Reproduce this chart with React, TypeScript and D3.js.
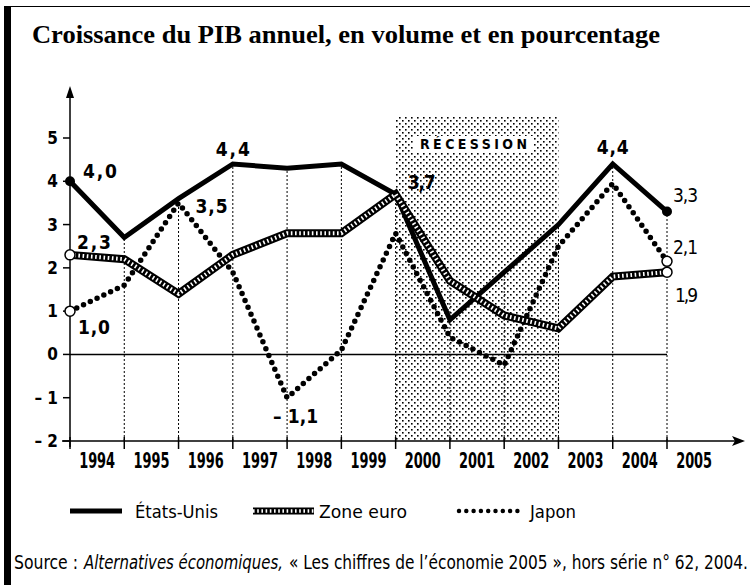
import React from 'react';
import * as d3 from 'd3';

const years = ['1994', '1995', '1996', '1997', '1998', '1999', '2000', '2001', '2002', '2003', '2004', '2005'];
const etatsUnis = [4.0, 2.7, 3.6, 4.4, 4.3, 4.4, 3.7, 0.8, 1.9, 3.0, 4.4, 3.3];
const zoneEuro = [2.3, 2.2, 1.4, 2.3, 2.8, 2.8, 3.7, 1.7, 0.9, 0.6, 1.8, 1.9];
const japon = [1.0, 1.6, 3.5, 1.9, -1.0, 0.1, 2.8, 0.4, -0.25, 2.5, 3.95, 2.15];
const yTicks = [-2, -1, 0, 1, 2, 3, 4, 5];
const recession = ['2000', '2003'];

const sans = "'DejaVu Sans Condensed', 'DejaVu Sans', sans-serif";
const serif = "'Liberation Serif', 'DejaVu Serif', serif";

export default function App() {
  const width = 750;
  const height = 585;

  const x = d3.scalePoint<string>().domain(years).range([70, 667]);
  const y = d3.scaleLinear().domain([-2, 5]).range([441, 138]);
  const step = x.step();

  const line = d3.line<number>()
    .x((d, i) => x(years[i])!)
    .y(d => y(d));

  const maxAt = years.map((yr, i) => Math.max(etatsUnis[i], zoneEuro[i], japon[i]));

  const first = years[0];
  const last = years[years.length - 1];

  // value labels: [text, series, year index, dx, dy, anchor, bold, width]
  const valueLabels: [string, number[], number, number, number, string, boolean, number][] = [
    ['4,0', etatsUnis, 0, 13, -3, 'start', true, 34],
    ['2,3', zoneEuro, 0, 7, -6, 'start', true, 34],
    ['1,0', japon, 0, 8, 23, 'start', true, 32],
    ['4,4', etatsUnis, 3, 0, -8, 'middle', true, 34],
    ['3,5', japon, 2, 17, 10, 'start', true, 32],
    ['\u2013\u00a01,1', japon, 4, -14, 25, 'start', true, 45],
    ['3,7', etatsUnis, 6, 12, -5, 'start', true, 28],
    ['4,4', etatsUnis, 10, 0, -10, 'middle', true, 32],
    ['3,3', etatsUnis, 11, 6, -10, 'start', false, 25],
    ['2,1', japon, 11, 6, -7, 'start', false, 25],
    ['1,9', zoneEuro, 11, 8, 30, 'start', false, 23],
  ];

  const sx = 0.88; // horizontal squeeze for the source line

  return (
    <svg width={width} height={height} style={{ position: 'absolute', left: 0, top: 0, background: '#fff' }}>
      <defs>
        <pattern id="dots" width="6" height="6" patternUnits="userSpaceOnUse">
          <rect x="0" y="0" width="1.6" height="1.6" fill="#000" />
          <rect x="3" y="3" width="1.6" height="1.6" fill="#000" />
        </pattern>
      </defs>

      {/* frame */}
      <rect x={4} y={7} width={7} height={578} fill="#000" />
      <line x1={4} x2={750} y1={6.5} y2={6.5} stroke="#000" strokeWidth={1.2} />

      <text x={32} y={43} fontFamily={serif} fontWeight="bold" fontSize={26} textLength={628} lengthAdjust="spacingAndGlyphs">
        Croissance du PIB annuel, en volume et en pourcentage
      </text>

      {/* recession band */}
      <rect x={x(recession[0])} y={116} width={x(recession[1])! - x(recession[0])!} height={y(-2) - 116} fill="url(#dots)" />
      <rect x={413} y={136} width={120} height={16} fill="#fff" />
      <text x={420} y={149} fontFamily={sans} fontWeight="bold" fontSize={14} textLength={107} lengthAdjust="spacing">
        RÉCESSION
      </text>

      {/* vertical dotted guides */}
      {years.slice(1).map((yr, i) => (
        <line key={yr} x1={x(yr)} x2={x(yr)} y1={y(-2)} y2={y(maxAt[i + 1])}
          stroke="#000" strokeWidth={1} strokeDasharray="2,2" />
      ))}

      {/* zero line */}
      <line x1={x(first)} x2={x(last)} y1={y(0)} y2={y(0)} stroke="#000" strokeWidth={1.5} />

      {/* axes */}
      <line x1={70} x2={70} y1={92} y2={447} stroke="#000" strokeWidth={1.5} />
      <path d="M70,86 L66,98 L74,98 Z" fill="#000" />
      <line x1={62} x2={738} y1={y(-2)} y2={y(-2)} stroke="#000" strokeWidth={1.5} />
      <path d="M745,441 L732,436 L735,441 L732,446 Z" fill="#000" />
      {yTicks.map(t => (
        <g key={t}>
          <line x1={63} x2={70} y1={y(t)} y2={y(t)} stroke="#000" strokeWidth={1.5} />
          <text x={58} y={y(t) + 6} textAnchor="end" fontFamily={sans} fontWeight="bold" fontSize={17}>
            {t < 0 ? '\u2013\u00a0' + Math.abs(t) : t}
          </text>
        </g>
      ))}
      {years.map(yr => (
        <g key={yr}>
          <line x1={x(yr)} x2={x(yr)} y1={437} y2={449} stroke="#000" strokeWidth={1.5} />
          <text x={x(yr)! + step / 2 - 18} y={468} fontFamily={sans} fontWeight="bold" fontSize={21}
            textLength={36} lengthAdjust="spacingAndGlyphs">
            {yr}
          </text>
        </g>
      ))}

      {/* series */}
      <path d={line(etatsUnis)!} fill="none" stroke="#000" strokeWidth={5} strokeLinejoin="miter" />
      <path d={line(japon)!} fill="none" stroke="#000" strokeWidth={5.5} strokeDasharray="0 7.5" strokeLinecap="round" />
      <path d={line(zoneEuro)!} fill="none" stroke="#000" strokeWidth={8} />
      <path d={line(zoneEuro)!} fill="none" stroke="#fff" strokeWidth={4} strokeDasharray="1.6 2.6" />

      {/* end markers */}
      <circle cx={x(first)} cy={y(etatsUnis[0])} r={5} fill="#000" />
      <circle cx={x(last)} cy={y(etatsUnis[11])} r={5} fill="#000" />
      <circle cx={x(first)} cy={y(zoneEuro[0])} r={5} fill="#fff" stroke="#000" strokeWidth={1.5} />
      <circle cx={x(last)} cy={y(zoneEuro[11])} r={5} fill="#fff" stroke="#000" strokeWidth={1.5} />
      <circle cx={x(first)} cy={y(japon[0])} r={5} fill="#fff" stroke="#000" strokeWidth={1.5} />
      <circle cx={x(last)} cy={y(japon[11])} r={5} fill="#fff" stroke="#000" strokeWidth={1.5} />

      {valueLabels.map(([txt, s, i, dx, dy, anchor, bold, w], k) => (
        <text key={k} x={x(years[i])! + dx} y={y(s[i]) + dy} textAnchor={anchor}
          fontFamily={sans} fontWeight={bold ? 'bold' : 'normal'} fontSize={19}
          textLength={w} lengthAdjust="spacing">
          {txt}
        </text>
      ))}

      {/* legend */}
      <line x1={70} x2={122} y1={511} y2={511} stroke="#000" strokeWidth={5} />
      <text x={135} y={518} fontFamily={sans} fontSize={18} textLength={83} lengthAdjust="spacingAndGlyphs">États-Unis</text>
      <line x1={253} x2={314} y1={511} y2={511} stroke="#000" strokeWidth={7} />
      <line x1={253} x2={314} y1={511} y2={511} stroke="#fff" strokeWidth={3.5} strokeDasharray="1.6 2.6" />
      <text x={319} y={518} fontFamily={sans} fontSize={18} textLength={88} lengthAdjust="spacingAndGlyphs">Zone euro</text>
      <line x1={459} x2={518} y1={511} y2={511} stroke="#000" strokeWidth={4.5} strokeDasharray="0 7.3" strokeLinecap="round" />
      <text x={530} y={518} fontFamily={sans} fontSize={18} textLength={46} lengthAdjust="spacingAndGlyphs">Japon</text>

      {/* source */}
      <g transform={`translate(14,569) scale(${sx},1)`} fontFamily={sans} fontSize={19}>
        <text x={0} y={0} textLength={64 / sx} lengthAdjust="spacingAndGlyphs">Source :</text>
        <text x={70 / sx} y={0} fontStyle="italic" textLength={199 / sx} lengthAdjust="spacingAndGlyphs">
          Alternatives économiques,
        </text>
        <text x={275 / sx} y={0} textLength={459 / sx} lengthAdjust="spacingAndGlyphs">
          « Les chiffres de l’économie 2005 », hors série n° 62, 2004.
        </text>
      </g>
    </svg>
  );
}
